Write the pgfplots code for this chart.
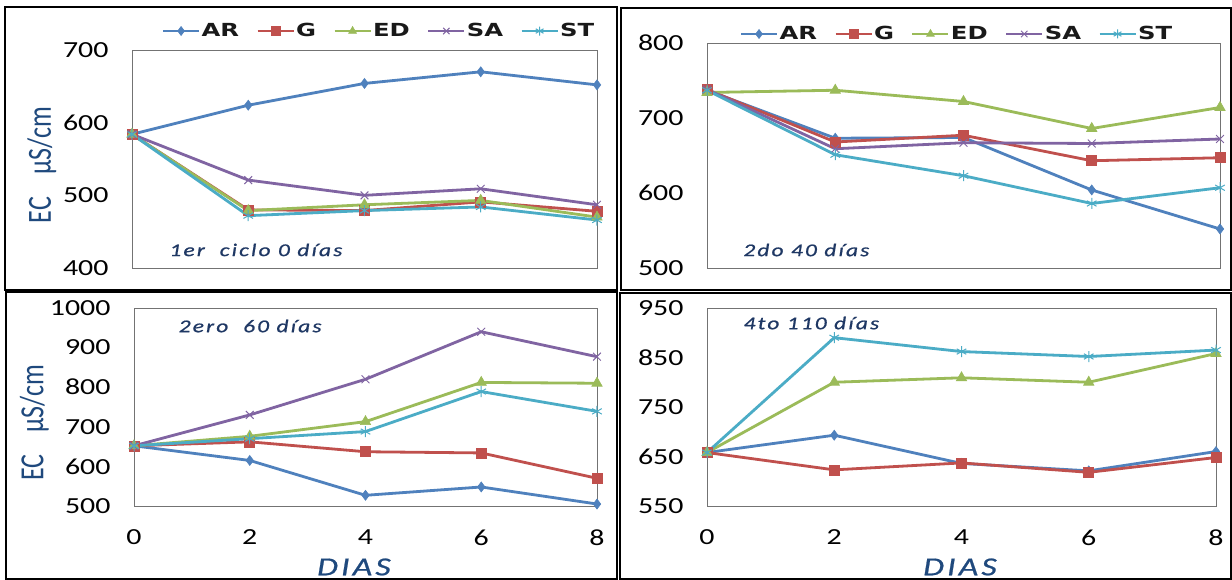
\documentclass[border=0pt]{standalone}
\usepackage{fontspec}
\setmainfont{Carlito}[FakeStretch=1.3]
\newfontfamily\legfont{DejaVu Sans}[FakeStretch=1.35]
\newfontfamily\annfont{Carlito}[FakeStretch=1.3, LetterSpace=12, FakeBold=0.8]
\newfontfamily\labfont{Carlito}
\usepackage{pgfplots}
\pgfplotsset{compat=1.18}
\definecolor{cAR}{HTML}{4F81BD}
\definecolor{cG}{HTML}{C0504D}
\definecolor{cED}{HTML}{9BBB59}
\definecolor{cSA}{HTML}{8064A2}
\definecolor{cST}{HTML}{4BACC6}
\definecolor{txtblue}{HTML}{1F497D}
\definecolor{anblue}{HTML}{1F3864}
\pgfplotsset{
  panel/.style={scale only axis, anchor=south west, xmin=0, xmax=8, xtick={0,2,4,6,8},
    axis line style={draw=black!55, line width=0.9pt},
    tick style={draw=none},
    every tick label/.append style={font=\fontsize{23}{24}\selectfont},
    /pgf/number format/assume math mode=true,
    /pgf/number format/1000 sep={},
    yticklabel style={xshift=-20pt}, xticklabel style={yshift=-20pt},
    clip=false},
  sAR/.style={color=cAR, line width=2.8pt, mark=diamond*, mark size=5pt, mark options={solid, fill=cAR, line width=0.6pt}},
  sG/.style={color=cG, line width=2.8pt, mark=square*, mark size=5pt, mark options={solid, fill=cG, line width=0.6pt}},
  sED/.style={color=cED, line width=2.8pt, mark=triangle*, mark size=6pt, mark options={solid, fill=cED, line width=0.6pt}},
  sSA/.style={color=cSA, line width=2.8pt, mark=x, mark size=5.5pt, mark options={solid, line width=1pt}},
  sST/.style={color=cST, line width=2.8pt, mark=asterisk, mark size=5.5pt, mark options={solid, line width=1pt}},
  leg/.style={legend columns=5, legend style={draw=none, fill=none, anchor=center,
      font=\legfont\bfseries\fontsize{18}{20}\selectfont, text=black!90,
      nodes={inner xsep=1.5pt},
      /tikz/every even column/.append style={column sep=16pt}},
    legend image code/.code={\draw[mark repeat=2,mark phase=2,##1, line width=2pt, mark size=4.5pt] plot coordinates {(0pt,0pt) (18pt,0pt) (36pt,0pt)};}},
}
\newcommand{\ann}[1]{{\annfont\itshape\fontsize{18}{20}\selectfont #1}}
\begin{document}
\begin{tikzpicture}
\useasboundingbox (0,0) rectangle (1232pt,580pt);
\fill[white] (0,0) rectangle (1232pt,580pt);
% panel frames
\draw[line width=1.1pt] (5pt,290pt) rectangle (617pt,573pt);
\draw[line width=1.1pt] (621pt,290pt) rectangle (1231pt,572pt);
\draw[line width=1.1pt] (6pt,1pt) rectangle (617pt,288pt);
\draw[line width=1.1pt] (620pt,1pt) rectangle (1231pt,287pt);

% Panel 1
\begin{axis}[panel, leg, at={(132pt,312pt)}, width=465pt, height=218pt,
  ymin=400, ymax=700, ytick={400,500,600,700}, xticklabels=\empty,
  legend style={at={(axis description cs:0.531,1.087)}}]
\addplot[sAR] coordinates {(0,584) (2,624) (4,654) (6,670) (8,652)};
\addplot[sG] coordinates {(0,584) (2,480) (4,479) (6,491) (8,478)};
\addplot[sED] coordinates {(0,584) (2,479) (4,487) (6,493) (8,470)};
\addplot[sSA] coordinates {(0,584) (2,521) (4,500) (6,509) (8,487)};
\addplot[sST] coordinates {(0,584) (2,472) (4,479) (6,484) (8,466)};
\legend{AR,G,ED,SA,ST}
\node[anchor=west, text=anblue] at (axis description cs:0.073,0.083) {\ann{1er\ \ ciclo 0 días}};
\node[rotate=90, text=txtblue, font=\labfont\fontsize{26}{28}\selectfont] at (axis description cs:-0.194,0.472) {\scalebox{1}[1.3]{EC\hspace{22pt}μS/cm}};
\end{axis}

% Panel 2
\begin{axis}[panel, leg, at={(707pt,312pt)}, width=513pt, height=225pt,
  ymin=500, ymax=800, ytick={500,600,700,800}, xticklabels=\empty,
  legend style={at={(axis description cs:0.487,1.04)}}]
\addplot[sAR] coordinates {(0,737) (2,673) (4,674) (6,604) (8,552)};
\addplot[sG] coordinates {(0,738) (2,668) (4,677) (6,643) (8,647)};
\addplot[sED] coordinates {(0,734) (2,737) (4,722) (6,686) (8,714)};
\addplot[sSA] coordinates {(0,738) (2,659) (4,667) (6,666) (8,672)};
\addplot[sST] coordinates {(0,737) (2,651) (4,623) (6,586) (8,607)};
\legend{AR,G,ED,SA,ST}
\node[anchor=west, text=anblue] at (axis description cs:0.064,0.08) {\ann{2do 40 días}};
\end{axis}

% Panel 3
\begin{axis}[panel, at={(134pt,74pt)}, width=463pt, height=198pt,
  ymin=500, ymax=1000, ytick={500,600,700,800,900,1000}]
\addplot[sAR] coordinates {(0,652) (2,615) (4,527) (6,548) (8,505)};
\addplot[sG] coordinates {(0,652) (2,662) (4,637) (6,634) (8,570)};
\addplot[sED] coordinates {(0,652) (2,676) (4,713) (6,812) (8,810)};
\addplot[sSA] coordinates {(0,652) (2,730) (4,820) (6,940) (8,877)};
\addplot[sST] coordinates {(0,652) (2,670) (4,688) (6,789) (8,739)};
\node[anchor=west, text=anblue] at (axis description cs:0.089,0.909) {\ann{2ero\ \ 60 días}};
\node[rotate=90, text=txtblue, font=\labfont\fontsize{26}{28}\selectfont] at (axis description cs:-0.215,0.42) {\scalebox{1}[1.3]{EC\hspace{22pt}μS/cm}};
\node[text=txtblue] at (axis description cs:0.475,-0.308) {{\annfont\itshape\fontsize{26}{28}\selectfont DIAS}};
\end{axis}

% Panel 4
\begin{axis}[panel, at={(707pt,74pt)}, width=509pt, height=198pt,
  ymin=550, ymax=950, ytick={550,650,750,850,950}]
\addplot[sAR] coordinates {(0,658) (2,693) (4,636) (6,621) (8,660)};
\addplot[sG] coordinates {(0,658) (2,623) (4,637) (6,618) (8,648)};
\addplot[sED] coordinates {(0,658) (2,800) (4,809) (6,800) (8,858)};
\addplot[sST] coordinates {(0,658) (2,890) (4,862) (6,852) (8,865)};
\node[anchor=west, text=anblue] at (axis description cs:0.065,0.924) {\ann{4to 110 días}};
\node[text=txtblue] at (axis description cs:0.497,-0.308) {{\annfont\itshape\fontsize{26}{28}\selectfont DIAS}};
\end{axis}
\end{tikzpicture}
\end{document}
